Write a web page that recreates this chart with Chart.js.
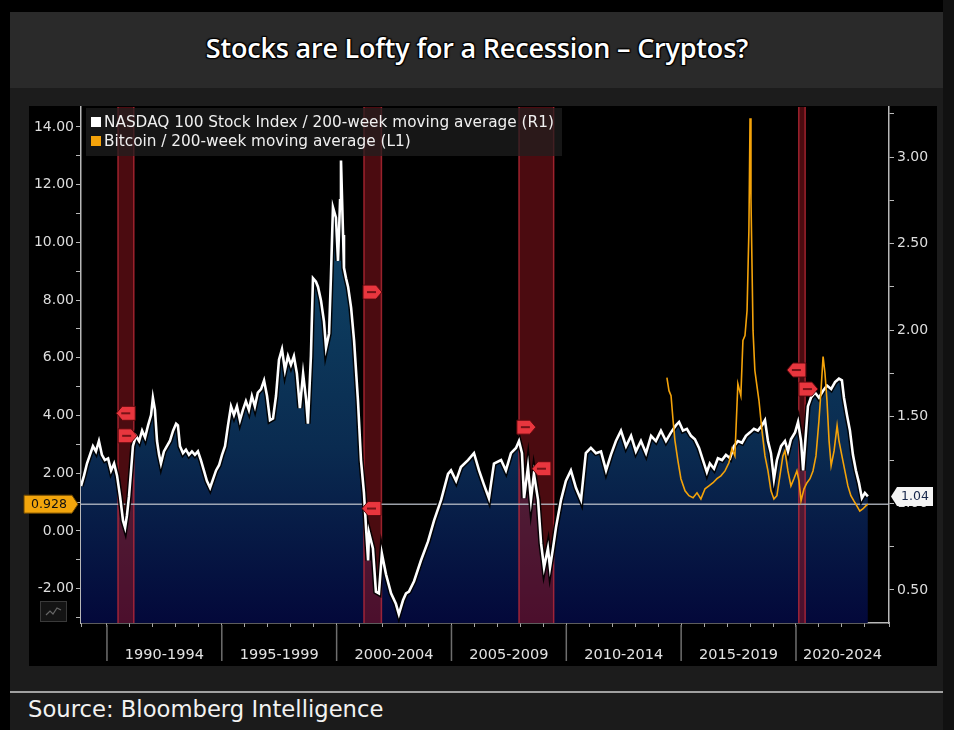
<!DOCTYPE html>
<html><head><meta charset="utf-8">
<script src="https://cdn.jsdelivr.net/npm/chart.js@4.4.1/dist/chart.umd.min.js"></script>
<style>
html,body{margin:0;padding:0;background:#000;width:954px;height:730px;overflow:hidden;}
.abs{position:absolute;}
#titlebar{left:10px;top:12px;width:933px;height:76px;background:#2a2a2a;}
#title{left:0;top:28px;width:954px;height:40px;line-height:40px;text-align:center;color:#fff;
 font-family:"Open Sans",sans-serif;font-weight:600;font-size:27px;letter-spacing:-0.2px;
 text-shadow:0 0 2px #000,1px 1px 1px #000,-1px -1px 1px #000,1px -1px 1px #000,-1px 1px 1px #000;}
#panel{left:10px;top:88px;width:933px;height:603px;background:#1c1c1c;}
#rstrip{left:943px;top:0;width:11px;height:730px;background:#111;}
#box{left:29px;top:106px;width:908px;height:560px;background:#000;}
#rule{left:10px;top:691px;width:933px;height:2px;background:#a0a0a0;}
#bottom{left:10px;top:693px;width:933px;height:37px;background:#1b1b1b;}
#source{left:28px;top:694px;color:#f2f2f2;font-family:"DejaVu Sans",sans-serif;font-size:22.7px;line-height:30px;}
#legend{left:86px;top:108px;width:476px;height:48px;background:rgba(30,30,30,0.72);}
.lg{position:absolute;left:104px;color:#f0f0f0;font-family:"DejaVu Sans",sans-serif;font-size:15.3px;line-height:18px;white-space:nowrap;}
.sq{position:absolute;left:91px;width:10px;height:10px;}
#icon{left:40px;top:601px;width:25px;height:19px;border:1px solid #3a3a3a;background:#141414;}
canvas{position:absolute;left:0;top:0;}
</style></head>
<body>
<div id="titlebar" class="abs"></div>
<div id="rstrip" class="abs"></div>
<div id="panel" class="abs"></div>
<div id="box" class="abs"></div>
<div id="rule" class="abs"></div>
<div id="bottom" class="abs"></div>
<div id="title" class="abs">Stocks are Lofty for a Recession – Cryptos?</div>
<div id="source" class="abs">Source: Bloomberg Intelligence</div>
<div id="icon" class="abs"><svg width="25" height="19"><polyline points="5,13 9,9 12,12 16,6 20,8" fill="none" stroke="#666" stroke-width="1.2"/></svg></div>
<canvas id="c" width="954" height="730"></canvas>
<div id="legend" class="abs"></div>
<div class="sq" style="top:117px;background:#fff;"></div>
<div class="lg" style="top:113px;">NASDAQ 100 Stock Index / 200-week moving average (R1)</div>
<div class="sq" style="top:136px;background:#f5a30a;"></div>
<div class="lg" style="top:132px;">Bitcoin / 200-week moving average (L1)</div>
<script>
// ---- data (decimal years) ----
const nasdaqDates = [
1988.87,1989.00,1989.13,1989.26,1989.39,1989.52,1989.65,1989.78,1989.91,1990.05,
1990.18,1990.31,1990.44,1990.57,1990.70,1990.79,1990.87,1990.96,1991.05,1991.13,
1991.26,1991.40,1991.53,1991.66,1991.79,1991.92,1992.00,1992.09,1992.18,1992.27,
1992.35,1992.48,1992.61,1992.74,1992.88,1993.01,1993.09,1993.18,1993.31,1993.44,
1993.57,1993.70,1993.83,1993.96,1994.09,1994.22,1994.35,1994.49,1994.62,1994.75,
1994.88,1995.01,1995.14,1995.27,1995.40,1995.53,1995.66,1995.79,1995.92,1996.05,
1996.18,1996.31,1996.44,1996.57,1996.71,1996.84,1996.97,1997.10,1997.23,1997.36,
1997.49,1997.62,1997.75,1997.88,
1998.01,1998.14,1998.27,1998.40,1998.54,1998.67,1998.75,1998.88,1998.97,1999.10,
1999.19,1999.32,1999.45,1999.54,1999.67,1999.75,1999.84,1999.97,2000.06,2000.15,
2000.19,2000.28,2000.32,2000.41,2000.50,2000.63,2000.76,2000.93,2001.06,2001.19,
2001.28,2001.37,2001.41,2001.58,2001.71,2001.84,2001.97,2002.15,2002.37,2002.58,
2002.71,2002.89,2003.02,2003.15,2003.37,2003.67,2003.98,2004.24,2004.55,2004.85,
2004.98,2005.20,2005.41,2005.72,2005.98,2006.20,2006.41,2006.63,2006.85,2007.16,
2007.37,2007.59,2007.81,2007.94,2008.07,2008.16,2008.33,2008.46,2008.59,2008.77,
2008.90,2009.03,2009.20,2009.29,2009.42,2009.55,2009.77,2009.98,2010.20,2010.42,
2010.64,2010.85,2011.07,2011.29,2011.51,2011.73,2011.94,2012.16,2012.38,2012.60,
2012.82,2013.03,2013.25,2013.47,2013.69,2013.90,2014.12,2014.34,2014.56,2014.77,
2014.91,2015.08,2015.25,2015.43,2015.60,2015.78,2015.95,2016.12,2016.25,2016.43,
2016.60,2016.78,2016.95,2017.13,2017.30,2017.47,2017.65,2017.82,2018.00,2018.17,
2018.34,2018.52,2018.65,2018.78,2018.91,2019.04,2019.17,2019.35,2019.52,2019.65,
2019.78,2019.96,2020.09,2020.22,2020.31,2020.39,2020.52,2020.65,2020.83,2021.00,
2021.18,2021.35,2021.53,2021.70,2021.87,2022.00,2022.09,2022.22,2022.35,2022.48,
2022.61,2022.74,2022.87,2023.00,2023.13];
const nasdaqRatio = [
1.10,1.16,1.23,1.28,1.33,1.30,1.36,1.28,1.25,1.26,
1.19,1.23,1.16,1.04,0.90,0.86,0.93,1.04,1.19,1.33,
1.39,1.36,1.42,1.38,1.45,1.51,1.61,1.54,1.36,1.28,
1.23,1.30,1.33,1.36,1.42,1.46,1.45,1.33,1.29,1.31,
1.28,1.30,1.28,1.30,1.25,1.19,1.13,1.09,1.14,1.19,
1.22,1.28,1.33,1.45,1.56,1.51,1.56,1.48,1.54,1.59,
1.54,1.62,1.56,1.64,1.66,1.71,1.62,1.48,1.49,1.62,
1.83,1.89,1.77,1.85,
1.80,1.85,1.75,1.55,1.75,1.60,1.46,1.85,2.30,2.28,
2.25,2.17,2.05,1.90,1.98,2.30,2.71,2.65,2.40,2.75,
2.98,2.55,2.36,2.30,2.25,2.13,1.94,1.59,1.25,1.06,
0.86,0.67,0.83,0.74,0.49,0.48,0.71,0.59,0.48,0.42,
0.36,0.44,0.48,0.49,0.55,0.67,0.78,0.90,1.02,1.17,
1.19,1.13,1.21,1.25,1.29,1.19,1.11,1.03,1.23,1.25,
1.19,1.29,1.32,1.36,1.29,1.03,1.21,1.02,1.17,1.02,
0.77,0.63,0.74,0.63,0.74,0.86,1.02,1.13,1.19,1.09,
1.02,1.29,1.32,1.29,1.30,1.19,1.28,1.36,1.42,1.33,
1.39,1.30,1.36,1.29,1.39,1.36,1.42,1.36,1.41,1.45,
1.47,1.42,1.43,1.39,1.37,1.32,1.25,1.18,1.23,1.20,
1.26,1.25,1.28,1.26,1.33,1.36,1.35,1.39,1.41,1.43,
1.42,1.45,1.48,1.36,1.29,1.14,1.25,1.33,1.36,1.30,
1.37,1.41,1.47,1.36,1.19,1.33,1.56,1.61,1.64,1.61,
1.65,1.68,1.66,1.70,1.72,1.71,1.61,1.51,1.42,1.28,
1.19,1.12,1.03,1.06,1.04];
const btcDates = [
2014.38,2014.47,2014.56,2014.65,2014.73,2014.86,2014.99,2015.17,2015.34,2015.52,
2015.69,2015.86,2016.04,2016.21,2016.39,2016.56,2016.73,2016.91,2017.08,2017.21,
2017.34,2017.47,2017.60,2017.69,2017.78,2017.87,2017.95,2018.00,2018.04,2018.13,
2018.21,2018.30,2018.39,2018.52,2018.65,2018.78,2018.91,2019.04,2019.17,2019.30,
2019.43,2019.52,2019.65,2019.78,2019.91,2020.04,2020.13,2020.22,2020.35,2020.48,
2020.61,2020.74,2020.87,2021.00,2021.09,2021.18,2021.26,2021.35,2021.44,2021.53,
2021.66,2021.79,2021.87,2022.00,2022.13,2022.26,2022.39,2022.52,2022.65,2022.78,
2022.91,2023.04,2023.13];
const btcRatio = [
5.31,4.86,4.69,3.82,3.13,2.43,1.81,1.39,1.22,1.15,
1.32,1.11,1.46,1.56,1.67,1.81,1.91,2.08,2.36,2.85,
2.60,5.10,4.69,6.60,6.77,7.64,10.4,14.3,11.5,6.94,
5.56,5.03,4.51,3.47,2.60,2.08,1.39,1.11,1.22,1.91,
2.60,2.78,2.08,1.56,1.81,2.08,1.74,1.04,1.46,1.67,
1.81,2.08,2.60,3.82,4.86,6.04,5.49,4.51,3.13,2.26,
2.78,3.65,3.13,2.60,2.08,1.56,1.22,1.04,0.87,0.69,
0.76,0.87,0.928];
const nasdaqLast = 1.04;
const btcLast = 0.928;
const recStart = [1990.48, 2001.19, 2007.94, 2020.12];
const recEnd   = [1991.17, 2001.95, 2009.45, 2020.40];
const flagYears  = [1990.84, 1990.88, 2001.54, 2001.54, 2008.24, 2008.94, 2020.04, 2020.52];
const flagValues = [1.52, 1.39, 2.22, 0.97, 1.44, 1.20, 1.77, 1.66];
const flagDirs   = ['L','R','R','L','R','L','L','R'];
const periodStarts = [1990, 1995, 2000, 2005, 2010, 2015, 2020];
const periodLabels = ['1990-1994','1995-1999','2000-2004','2005-2009','2010-2014','2015-2019','2020-2024'];
const xMin = 1988.87, xMax = 2024.05;
const leftMin = -3.19, leftMax = 14.69;
const rightMin = 0.309, rightMax = 3.289;

Chart.defaults.font.family = 'DejaVu Sans';
const nasdaqPts = nasdaqDates.map((d,i)=>({x:d, y:nasdaqRatio[i]}));
const btcPts = btcDates.map((d,i)=>({x:d, y:btcRatio[i]}));

function areaGrad(c){
  const ch = c.chart, a = ch.chartArea;
  if(!a) return '#0a2c50';
  const g = ch.ctx.createLinearGradient(0, a.top, 0, a.bottom);
  g.addColorStop(0, '#12496e');
  g.addColorStop(0.37, '#0d3c5e');
  g.addColorStop(0.66, '#0a2b50');
  g.addColorStop(1, '#03083a');
  return g;
}

const decor = {
  id:'decor',
  afterDatasetDraw(chart, args){
    if(args.index !== 0) return;
    const {ctx, chartArea:a, scales} = chart;
    const xs = scales.x;
    ctx.save();
    ctx.beginPath(); ctx.rect(a.left, a.top, a.right-a.left, a.bottom-a.top); ctx.clip();
    for(let i=0;i<recStart.length;i++){
      const x0 = xs.getPixelForValue(recStart[i]), x1 = xs.getPixelForValue(recEnd[i]);
      ctx.fillStyle = 'rgba(150,22,32,0.5)';
      ctx.fillRect(x0, a.top, x1-x0, a.bottom-a.top);
      ctx.strokeStyle = 'rgba(205,45,60,0.7)'; ctx.lineWidth = 1.5;
      ctx.beginPath();
      ctx.moveTo(x0, a.top); ctx.lineTo(x0, a.bottom);
      ctx.moveTo(x1, a.top); ctx.lineTo(x1, a.bottom);
      ctx.stroke();
    }
    const yRef = scales.yL.getPixelForValue(btcLast);
    ctx.strokeStyle = 'rgba(185,190,200,0.85)'; ctx.lineWidth = 1.5;
    ctx.beginPath(); ctx.moveTo(a.left, yRef); ctx.lineTo(a.right, yRef); ctx.stroke();
    ctx.restore();
  },
  afterDatasetsDraw(chart){
    const {ctx, scales} = chart;
    ctx.save();
    for(let i=0;i<flagYears.length;i++){
      const cx = scales.x.getPixelForValue(flagYears[i]);
      const cy = scales.yR.getPixelForValue(flagValues[i]);
      const s = flagDirs[i]==='L' ? -1 : 1;
      ctx.beginPath();
      ctx.moveTo(cx + s*10, cy);
      ctx.lineTo(cx + s*4, cy-7);
      ctx.lineTo(cx - s*9, cy-7);
      ctx.lineTo(cx - s*9, cy+7);
      ctx.lineTo(cx + s*4, cy+7);
      ctx.closePath();
      ctx.fillStyle = '#e8363e'; ctx.fill();
      ctx.strokeStyle = '#5a0a0e'; ctx.lineWidth = 1; ctx.stroke();
      ctx.fillStyle = 'rgba(90,10,14,0.8)';
      ctx.fillRect(cx-5, cy-1, 9, 2);
    }
    ctx.restore();
  },
  afterDraw(chart){
    const {ctx, chartArea:a, scales} = chart;
    const xs = scales.x;
    ctx.save();
    ctx.font = '14.5px "DejaVu Sans"';
    ctx.fillStyle = '#e2e2e2'; ctx.textAlign = 'center'; ctx.textBaseline = 'middle';
    for(let i=0;i<periodStarts.length;i++){
      const x0 = xs.getPixelForValue(periodStarts[i]);
      const x1 = Math.min(xs.getPixelForValue(periodStarts[i]+5), a.right);
      ctx.strokeStyle = '#6e6e6e'; ctx.lineWidth = 1.5;
      ctx.beginPath(); ctx.moveTo(x0, a.bottom+2); ctx.lineTo(x0, a.bottom+38); ctx.stroke();
      ctx.fillText(periodLabels[i], (x0+x1)/2, a.bottom+32);
    }
    const yb = scales.yL.getPixelForValue(btcLast);
    ctx.beginPath();
    ctx.moveTo(a.left-57, yb-9); ctx.lineTo(a.left-9, yb-9); ctx.lineTo(a.left-3, yb);
    ctx.lineTo(a.left-9, yb+9); ctx.lineTo(a.left-57, yb+9); ctx.closePath();
    ctx.fillStyle = '#f2a50c'; ctx.fill();
    ctx.strokeStyle = '#6a4500'; ctx.lineWidth = 1; ctx.stroke();
    ctx.fillStyle = '#111'; ctx.font = '12.5px "DejaVu Sans"';
    ctx.fillText(btcLast.toFixed(3), a.left-32, yb+0.5);
    const yn = scales.yR.getPixelForValue(nasdaqLast);
    ctx.beginPath();
    ctx.moveTo(a.right+2, yn); ctx.lineTo(a.right+8, yn-9.5); ctx.lineTo(a.right+44, yn-9.5);
    ctx.lineTo(a.right+44, yn+9.5); ctx.lineTo(a.right+8, yn+9.5); ctx.closePath();
    ctx.fillStyle = '#f4f4f4'; ctx.fill();
    ctx.fillStyle = '#16264a'; ctx.font = '12.5px "DejaVu Sans"';
    ctx.fillText(nasdaqLast.toFixed(2), a.right+26, yn+0.5);
    ctx.restore();
  }
};

new Chart(document.getElementById('c'), {
  type:'line',
  data:{ datasets:[
    {label:'area', data:nasdaqPts, yAxisID:'yR', fill:'start', backgroundColor:areaGrad,
     borderColor:'transparent', borderWidth:0, pointRadius:0, tension:0, order:4},
    {label:'outline', data:nasdaqPts, yAxisID:'yR', fill:false, borderColor:'rgba(0,0,0,0.92)',
     borderWidth:5.5, pointRadius:0, tension:0, order:3},
    {label:'NASDAQ 100 Stock Index / 200-week moving average (R1)', data:nasdaqPts, yAxisID:'yR', fill:false,
     borderColor:'#ffffff', borderWidth:2.6, pointRadius:0, tension:0, order:2},
    {label:'Bitcoin / 200-week moving average (L1)', data:btcPts, yAxisID:'yL', fill:false,
     borderColor:'#f4a30a', borderWidth:1.6, pointRadius:0, tension:0, order:1}
  ]},
  options:{
    responsive:false, animation:false, events:[],
    layout:{ padding:{left:30, right:15, top:107, bottom:63} },
    plugins:{ legend:{display:false}, tooltip:{enabled:false} },
    scales:{
      x:{ type:'linear', position:'bottom', min:xMin, max:xMax,
        ticks:{ stepSize:1, autoSkip:false, maxRotation:0, callback:()=>'' },
        grid:{ drawOnChartArea:false, drawTicks:true, tickLength:4, color:'#a8a8a8', lineWidth:1 },
        border:{ display:true, color:'#b8b8b8', width:1.5 },
        afterFit:(s)=>{ s.height = 44; } },
      yL:{ type:'linear', position:'left', min:leftMin, max:leftMax,
        ticks:{ stepSize:1, includeBounds:false, autoSkip:false, color:'#dedede', padding:2,
          font:{family:'DejaVu Sans', size:14},
          callback:(v)=> (Math.round(v)%2===0 ? Number(v).toFixed(2) : '') },
        grid:{ drawOnChartArea:false, tickLength:5, color:'#b8b8b8' },
        border:{ display:true, color:'#b8b8b8', width:1.5 },
        afterFit:(s)=>{ s.width = 51; } },
      yR:{ type:'linear', position:'right', min:rightMin, max:rightMax,
        ticks:{ stepSize:0.25, includeBounds:false, autoSkip:false, color:'#dedede', padding:3,
          font:{family:'DejaVu Sans', size:14},
          callback:(v)=> (Math.abs(v*2-Math.round(v*2))<1e-6 ? Number(v).toFixed(2) : '') },
        grid:{ drawOnChartArea:false, tickLength:5, color:'#b8b8b8' },
        border:{ display:true, color:'#b8b8b8', width:1.5 },
        afterFit:(s)=>{ s.width = 50; } }
    }
  },
  plugins:[decor]
});
</script>
</body></html>
